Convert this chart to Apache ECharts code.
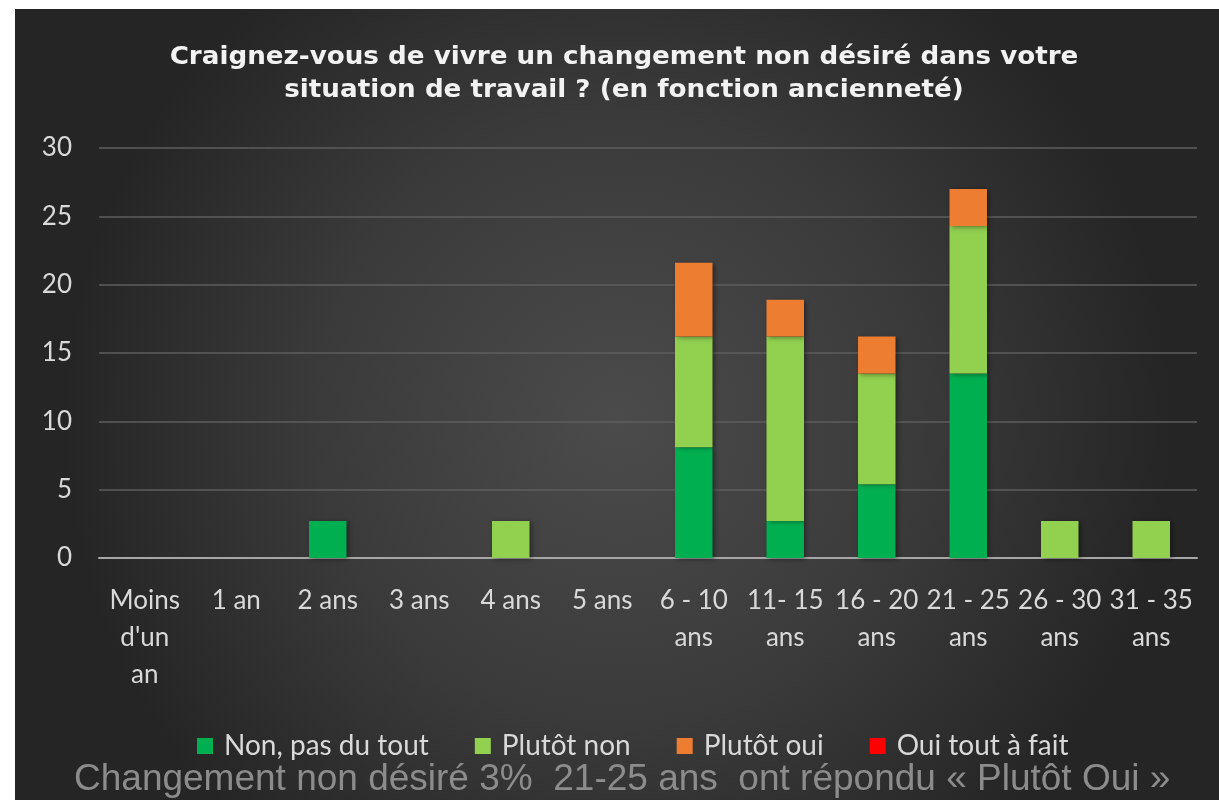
<!DOCTYPE html>
<html>
<head>
<meta charset="utf-8">
<script src="https://cdn.jsdelivr.net/npm/echarts@6/dist/echarts.min.js"></script>
<style>
html,body{margin:0;padding:0;background:#fff;}
#chart{width:1219px;height:800px;}
</style>
</head>
<body>
<div id="chart"></div>
<script>
const titleText = "Craignez-vous de vivre un changement non désiré dans votre\nsituation de travail ? (en fonction ancienneté)";
const noteText = "Changement non désiré 3%  21-25 ans  ont répondu « Plutôt Oui »";
const categories = ["Moins d'un an", "1 an", "2 ans", "3 ans", "4 ans", "5 ans", "6 - 10 ans", "11- 15 ans", "16 - 20 ans", "21 - 25 ans", "26 - 30 ans", "31 - 35 ans"];
const seriesNames = ["Non, pas du tout", "Plutôt non", "Plutôt oui", "Oui tout à fait"];
const nonPasDuTout = [0, 0, 2.7, 0, 0, 0, 8.1, 2.7, 5.4, 13.5, 0, 0];
const plutotNon    = [0, 0, 0, 0, 2.7, 0, 8.1, 13.5, 8.1, 10.8, 2.7, 2.7];
const plutotOui    = [0, 0, 0, 0, 0, 0, 5.4, 2.7, 2.7, 2.7, 0, 0];
const ouiToutAFait = [0, 0, 0, 0, 0, 0, 0, 0, 0, 0, 0, 0];
const yTicks = { min: 0, max: 30, interval: 5 };

const colors = ["#00b050", "#92d050", "#ed7d31", "#ff0000"];
const values = [nonPasDuTout, plutotNon, plutotOui, ouiToutAFait];

function wrapLabel(v) {
  if (/^\d+ ans?$/.test(v)) return v;
  const i = v.lastIndexOf(' ');
  let head = v.slice(0, i), tail = v.slice(i + 1);
  if (head.indexOf(' ') > 0 && head.indexOf('-') < 0) head = head.replace(' ', '\n');
  return head + '\n' + tail;
}

const chart = echarts.init(document.getElementById('chart'), null, { renderer: 'canvas' });
const labelFont = 'Lato, "Open Sans", sans-serif';

chart.setOption({
  backgroundColor: '#ffffff',
  animation: false,
  color: colors,
  graphic: [
    {
      type: 'rect', z: -10, silent: true,
      shape: { x: 15, y: 9, width: 1204, height: 791 },
      style: {
        fill: new echarts.graphic.RadialGradient(0.5, 0.52, 0.7, [
          { offset: 0, color: '#4b4b4b' },
          { offset: 0.55, color: '#3a3a3a' },
          { offset: 1, color: '#252525' }
        ])
      }
    },
    {
      type: 'text', silent: true, z: 10,
      x: 624, y: 41, scaleX: 1.19, scaleY: 1.1,
      style: {
        text: titleText,
        x: 0, y: 0,
        textAlign: 'center', textVerticalAlign: 'top',
        font: 'bold 22px "DejaVu Sans", sans-serif',
        lineHeight: 30,
        fill: '#f2f2f2',
        shadowColor: 'rgba(0,0,0,0.85)', shadowBlur: 3, shadowOffsetX: 1, shadowOffsetY: 2
      }
    },
    {
      type: 'text', silent: true, z: 10,
      left: 74, top: 761,
      style: {
        text: noteText,
        font: '37px "Liberation Sans", Arial, sans-serif',
        fill: '#8c8c8c'
      }
    }
  ],
  legend: {
    data: seriesNames,
    left: 192, top: 727,
    itemWidth: 16, itemHeight: 16, itemGap: 46,
    icon: 'rect',
    textStyle: { color: '#d9d9d9', fontSize: 28, fontFamily: labelFont, padding: [0, 0, 0, 6] }
  },
  grid: { left: 99, right: 22, top: 148, bottom: 242, containLabel: false },
  xAxis: {
    type: 'category',
    data: categories,
    axisLine: { show: true, lineStyle: { color: '#a6a6a6', width: 2 } },
    axisTick: { show: false },
    axisLabel: {
      interval: 0, hideOverlap: false,
      color: '#d9d9d9', fontSize: 26, fontFamily: labelFont,
      lineHeight: 37, margin: 24,
      formatter: wrapLabel
    }
  },
  yAxis: {
    type: 'value',
    min: yTicks.min, max: yTicks.max, interval: yTicks.interval,
    axisLine: { show: false },
    axisTick: { show: false },
    splitLine: { lineStyle: { color: '#5e5e5e', width: 1.5 } },
    axisLabel: { color: '#d9d9d9', fontSize: 26, fontFamily: labelFont, margin: 27 }
  },
  series: seriesNames.map((name, k) => ({
    name: name,
    type: 'bar',
    stack: 'total',
    barWidth: '41%',
    data: values[k],
    itemStyle: {
      color: colors[k],
      shadowColor: 'rgba(0,0,0,0.45)', shadowBlur: 5, shadowOffsetX: 2, shadowOffsetY: 1
    }
  }))
});
</script>
</body>
</html>
